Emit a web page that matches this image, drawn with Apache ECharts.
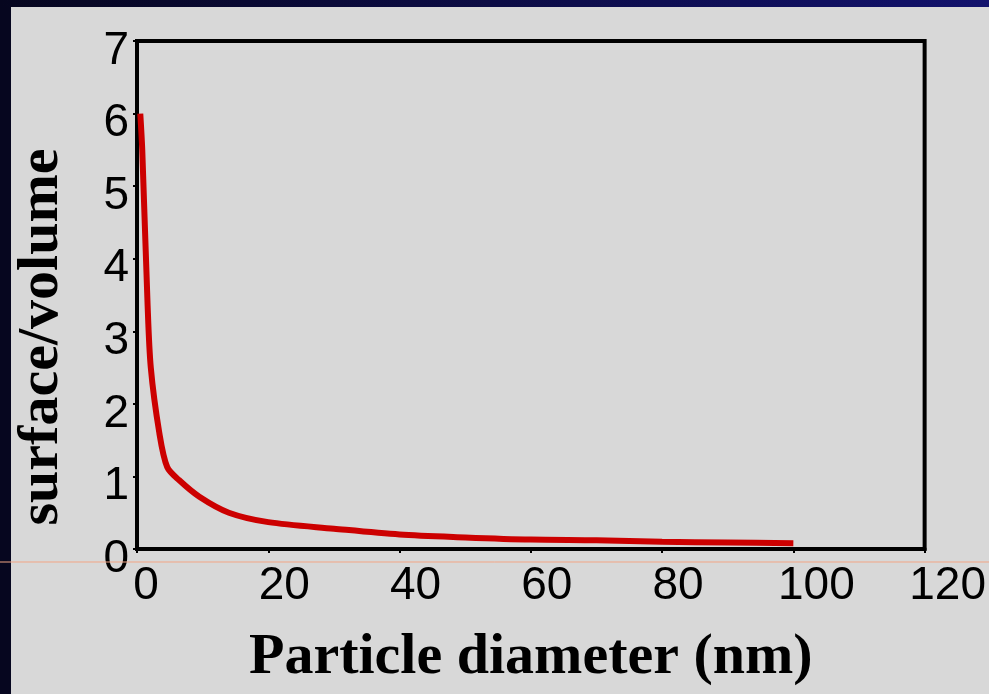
<!DOCTYPE html>
<html>
<head>
<meta charset="utf-8">
<script src="https://cdn.jsdelivr.net/npm/echarts@6/dist/echarts.min.js"></script>
<style>
html,body{margin:0;padding:0;background:#d8d8d8;}
#chart{width:989px;height:694px;}
</style>
</head>
<body>
<div id="chart"></div>
<script>
// Data
const diameters = [0.5, 0.8, 1.6, 2.1, 3.4, 4.6, 6.4, 9.5, 14, 20, 30, 40, 50, 60, 70, 80, 90, 100];
const surfaceVolume = [6.0, 5.5, 3.4, 2.5, 1.6, 1.13, 0.95, 0.72, 0.5, 0.37, 0.28, 0.2, 0.16, 0.13, 0.12, 0.1, 0.09, 0.08];
const xTicks = [0, 20, 40, 60, 80, 100, 120];
const yTicks = [0, 1, 2, 3, 4, 5, 6, 7];
const xTitle = 'Particle diameter (nm)';
const yTitle = 'surface/volume';

const chart = echarts.init(document.getElementById('chart'), null, {renderer: 'canvas'});
const labelFont = {fontFamily: 'Liberation Sans, Arial, sans-serif', fontSize: 46, color: '#000'};
const titleFont = {fontFamily: 'Liberation Serif, Times New Roman, serif', fontSize: 58, fontWeight: 'bold', color: '#000'};

const option = {
  backgroundColor: '#d8d8d8',
  animation: false,
  grid: {left: 137, right: 63.5, top: 41, bottom: 145, show: true, borderColor: '#000', borderWidth: 4, backgroundColor: 'transparent'},
  xAxis: {
    type: 'value', min: xTicks[0], max: xTicks[xTicks.length - 1], interval: 20,
    name: xTitle, nameLocation: 'middle', nameGap: 80, nameTextStyle: titleFont,
    axisLine: {show: true, lineStyle: {color: '#000', width: 4}},
    axisTick: {show: true, inside: false, length: 4, lineStyle: {color: '#000', width: 2}},
    splitLine: {show: false},
    axisLabel: {
      margin: 14, ...labelFont,
      formatter: function (v) {
        const s = String(v);
        return '{d' + s.length + '|' + s + '}';
      },
      rich: {
        d1: {...labelFont, padding: [0, 0, 0, 18]},
        d2: {...labelFont, padding: [0, 0, 0, 32]},
        d3: {...labelFont, padding: [0, 0, 0, 46]}
      }
    }
  },
  yAxis: {
    type: 'value', min: yTicks[0], max: yTicks[yTicks.length - 1], interval: 1,
    name: yTitle, nameLocation: 'middle', nameGap: 66,
    nameTextStyle: {...titleFont, padding: [0, 84, 0, 0]},
    axisLine: {show: true, lineStyle: {color: '#000', width: 4}},
    axisTick: {show: true, inside: false, length: 4, lineStyle: {color: '#000', width: 2}},
    splitLine: {show: false},
    axisLabel: {
      margin: 8, ...labelFont,
      formatter: function (v) { return '{y|' + v + '}'; },
      rich: {y: {...labelFont, padding: [20, 0, 0, 0]}}
    }
  },
  series: [{
    type: 'line',
    data: diameters.map((d, i) => [d, surfaceVolume[i]]),
    showSymbol: false,
    smooth: 0.3,
    lineStyle: {color: '#cc0000', width: 6},
    z: 3
  }],
  graphic: [
    {type: 'rect', left: 0, top: 0, z: 100, shape: {width: 11, height: 694}, style: {fill: '#06061f'}},
    {type: 'rect', left: 0, top: 0, z: 100, shape: {width: 989, height: 7},
      style: {fill: new echarts.graphic.LinearGradient(0, 0, 1, 0, [{offset: 0, color: '#06061f'}, {offset: 1, color: '#12126c'}])}},
    {type: 'line', z: 101, shape: {x1: 0, y1: 562, x2: 989, y2: 562}, style: {stroke: '#f2a585', lineWidth: 1}}
  ]
};
chart.setOption(option);
</script>
</body>
</html>
